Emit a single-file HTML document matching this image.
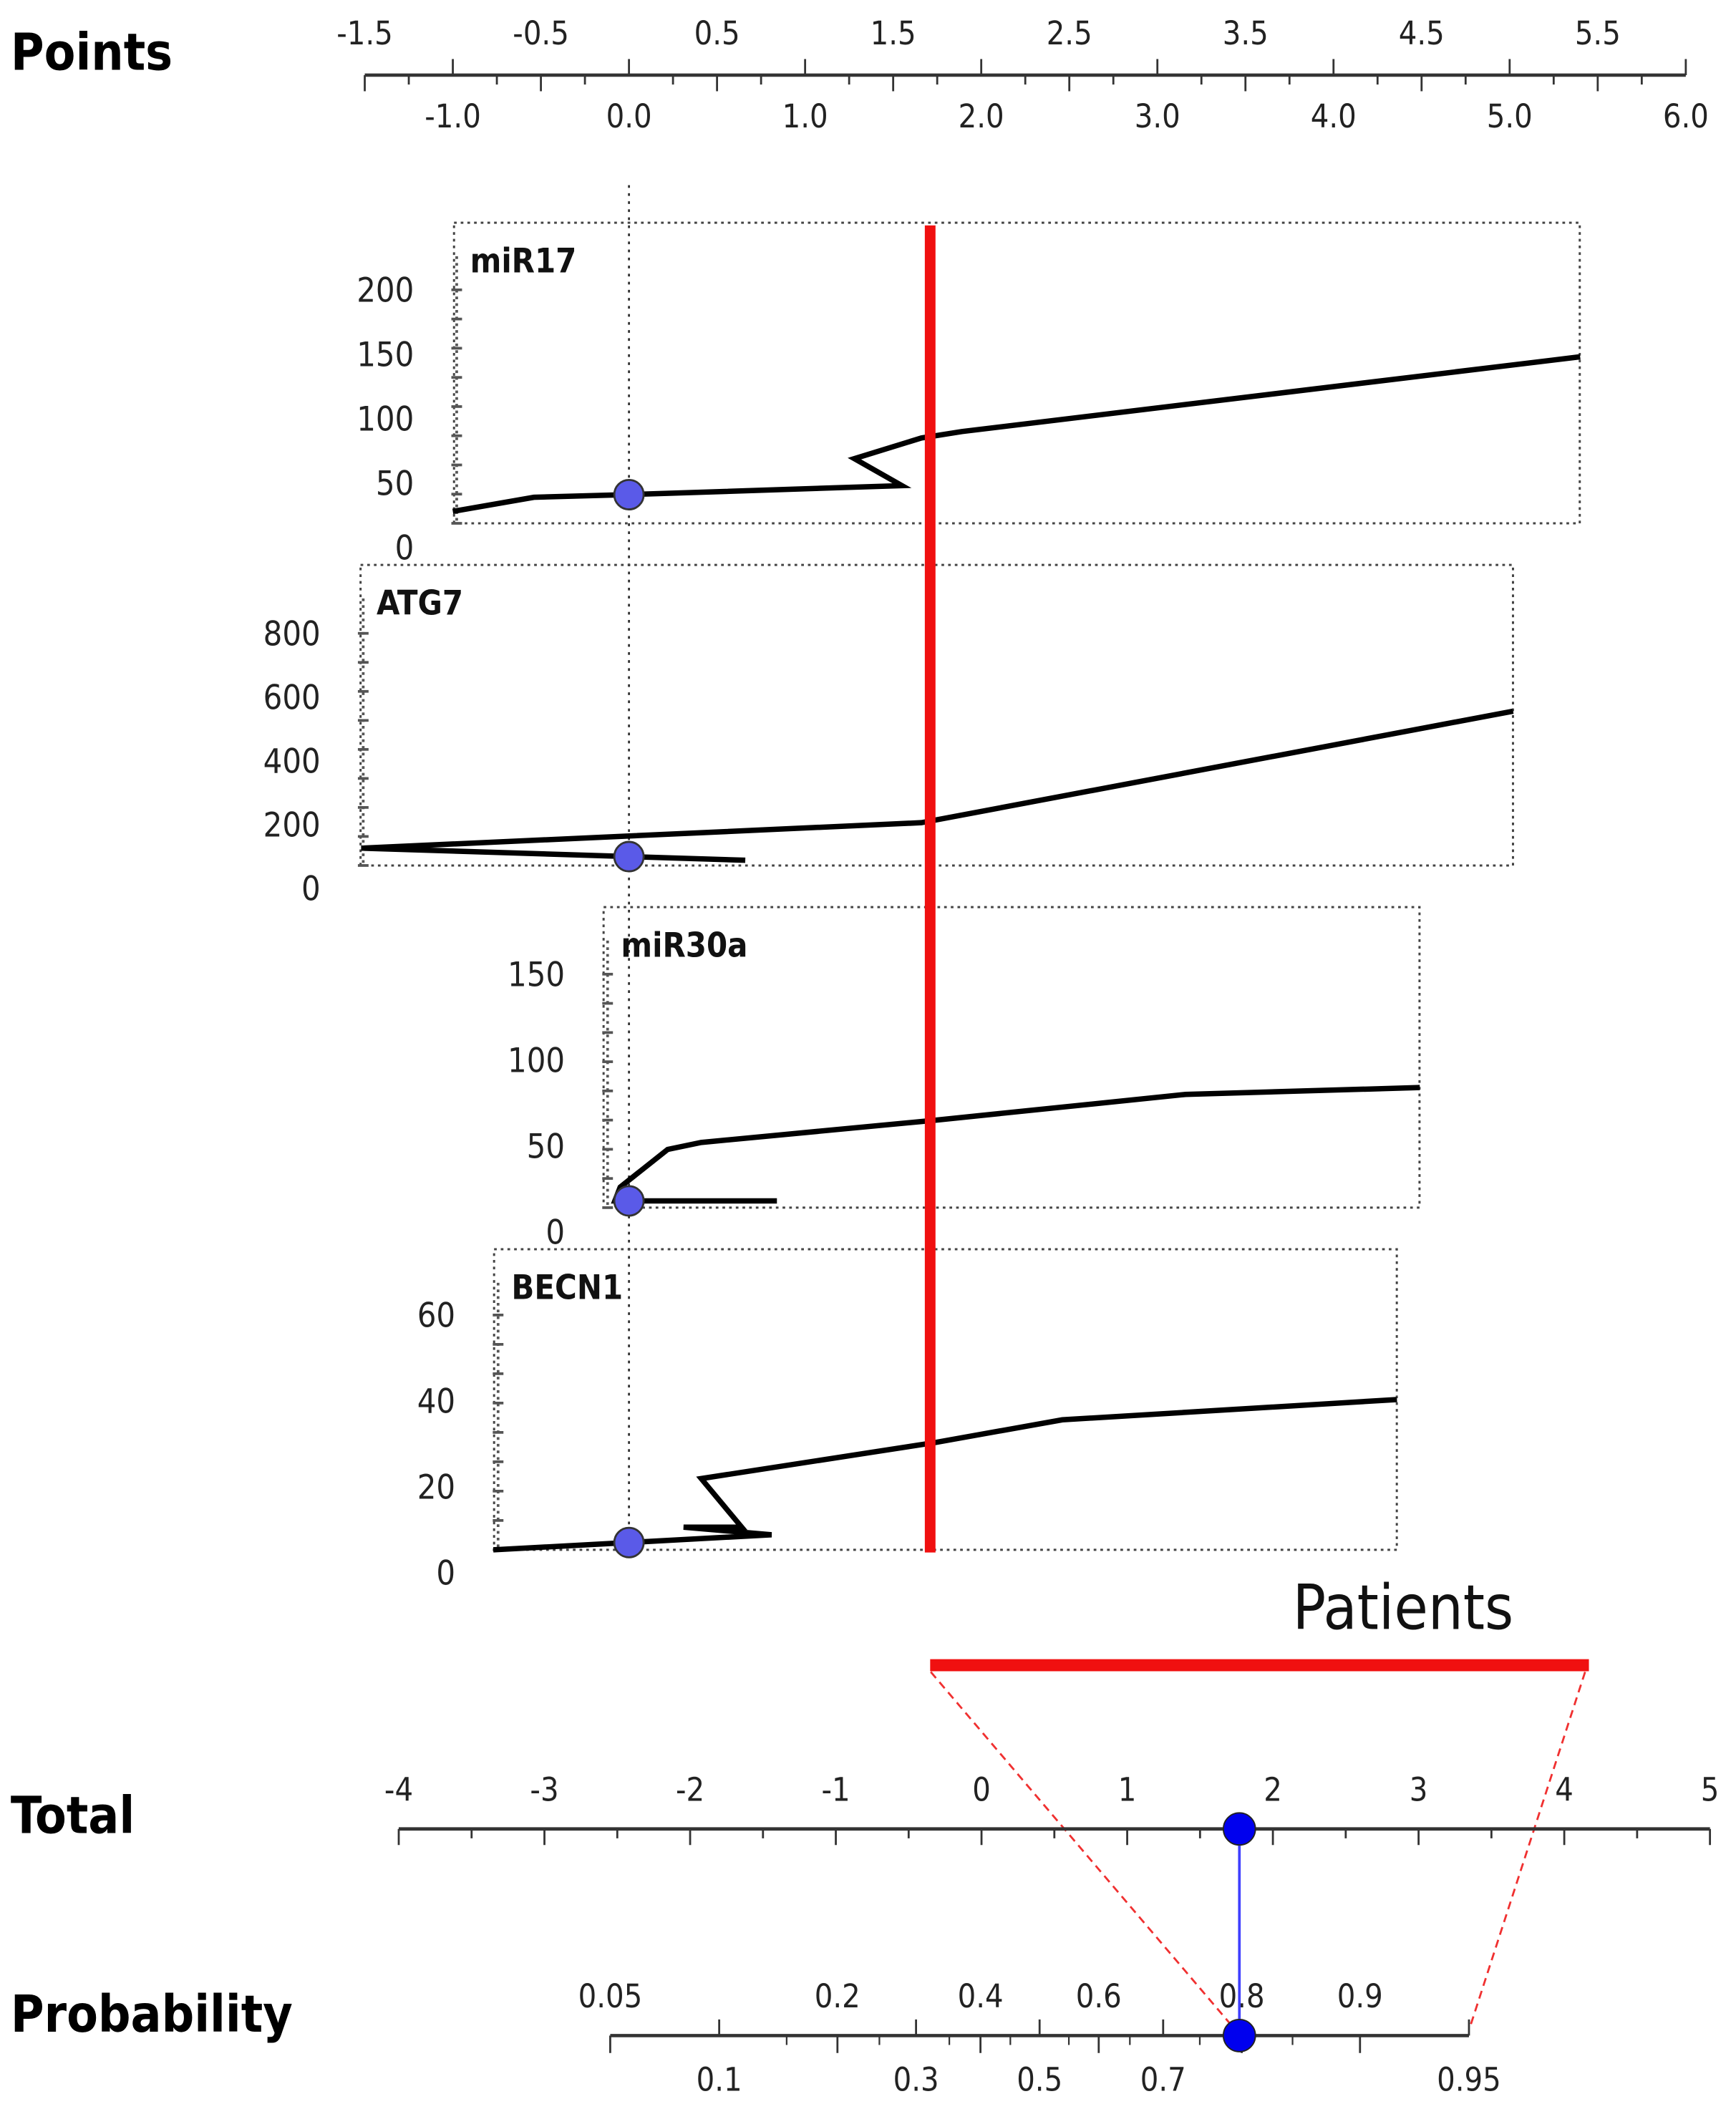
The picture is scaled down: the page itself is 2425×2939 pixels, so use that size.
<!DOCTYPE html>
<html><head><meta charset="utf-8"><style>
html,body{margin:0;padding:0;background:#fff}
svg{display:block}
text{font-family:"DejaVu Sans Condensed","Liberation Sans",sans-serif}
</style></head>
<body>
<svg id="chart" width="2425" height="2939" viewBox="0 0 1300 1568" preserveAspectRatio="none" xmlns="http://www.w3.org/2000/svg">
<g id="g"></g>
</svg>
<script>
// ---- data ----
const pointsTicksTop = [-1.5,-0.5,0.5,1.5,2.5,3.5,4.5,5.5];
const pointsTicksBottom = [-1.0,0.0,1.0,2.0,3.0,4.0,5.0,6.0];
const totalTicks = [-4,-3,-2,-1,0,1,2,3,4,5];
const probTop = [0.05,0.2,0.4,0.6,0.8,0.9];
const probBottom = [0.1,0.3,0.5,0.7,0.95];
const panelNames = ["miR17","ATG7","miR30a","BECN1"];
const miR17Pts = [-1,-0.54,0,1.55,1.28,1.66,1.89,5.4];
const miR17Vals = [28,39,41,48,69,85,90,148];
const miR17Ticks = [0,50,100,150,200];
const atg7Pts = [0.66,-1.52,1.66,5.02];
const atg7Vals = [88,126,206,556];
const atg7Ticks = [0,200,400,600,800];
const miR30aPts = [0.84,-0.08,-0.05,0.22,0.41,1.74,3.16,4.49];
const miR30aVals = [18,18,26,48,52,65,80,84];
const miR30aTicks = [0,50,100,150];
const becn1Pts = [-0.77,0.81,0.31,0.64,0.41,1.74,2.46,4.36];
const becn1Vals = [5.3,8.8,10.6,10.6,21.9,30.3,35.6,40.3];
const becn1Ticks = [0,20,40,60];
const patientPoints = 1.71;
const patientTotal = 1.77;
const patientRange = [1.71,5.45];

// ---- layout ----
const NS="http://www.w3.org/2000/svg";
const g=document.getElementById('g');
function el(tag,attrs,parent){const e=document.createElementNS(NS,tag);for(const k in attrs)e.setAttribute(k,attrs[k]);(parent||g).appendChild(e);return e;}
const px=v=>471+v*131.9;           // points axis
const tx=v=>735+v*109.1;            // total axis
const logit=p=>Math.log(p/(1-p));
const prx=p=>778.5+logit(p)*109.2;  // probability axis

// Points axis
let t=el('text',{x:8,y:52,'font-size':38,'font-weight':'bold','font-family':'Liberation Sans, sans-serif'});t.textContent='Points';


let ax=el('line',{x1:px(-1.5),x2:px(6),y1:56,y2:56,stroke:'#333','stroke-width':2.5});


for(let v=-1.5;v<=6.001;v+=0.25){
  const r=Math.round(v*4)/4; const isInt=Math.abs(r-Math.round(r))<1e-6; const isHalf=!isInt&&Math.abs(r*2-Math.round(r*2))<1e-6;
  if(isInt) el('line',{x1:px(r),x2:px(r),y1:44,y2:56,stroke:'#333','stroke-width':1.5});
  else el('line',{x1:px(r),x2:px(r),y1:56,y2:isHalf?68:63,stroke:'#333','stroke-width':1.5});
}
pointsTicksTop.forEach(v=>{const e=el('text',{x:px(v),y:33,'font-size':24,'text-anchor':'middle',fill:'#222'});e.textContent=v.toFixed(1);

});
pointsTicksBottom.forEach(v=>{const e=el('text',{x:px(v),y:95,'font-size':24,'text-anchor':'middle',fill:'#222'});e.textContent=v.toFixed(1);

});

// vertical dotted line at 0 points
el('line',{x1:px(0),x2:px(0),y1:138,y2:1162,stroke:'#333','stroke-width':1.5,'stroke-dasharray':'2,4'});

// panels
const panels=[
 {name:'miR17',pts:miR17Pts,vals:miR17Vals,ticks:miR17Ticks,bx:[340,1183],by:[166,390],zeroY:408,perUnit:48/50,axX:342},
 {name:'ATG7',pts:atg7Pts,vals:atg7Vals,ticks:atg7Ticks,bx:[270,1133],by:[421,645],zeroY:662,perUnit:47.5/200,axX:272},
 {name:'miR30a',pts:miR30aPts,vals:miR30aVals,ticks:miR30aTicks,bx:[452,1063],by:[676,900],zeroY:918,perUnit:64/50,axX:455},
 {name:'BECN1',pts:becn1Pts,vals:becn1Vals,ticks:becn1Ticks,bx:[370,1046],by:[931,1155],zeroY:1172,perUnit:64/20,axX:373}
];
panels.forEach((p,i)=>{
  const grp=el('g',{});
  
  
  const yv=v=>p.zeroY-v*p.perUnit;
  el('rect',{x:p.bx[0],y:p.by[0],width:p.bx[1]-p.bx[0],height:p.by[1]-p.by[0],fill:'none',stroke:'#444','stroke-width':1.6,'stroke-dasharray':'2,3'},grp);
  el('line',{x1:p.axX,x2:p.axX,y1:p.by[0]+25,y2:p.by[1],stroke:'#555','stroke-width':2,'stroke-dasharray':'2,3'},grp);
  const top=p.ticks[p.ticks.length-1];
  for(let k=0;k<=8;k++){const v=top*k/8;el('line',{x1:p.axX-4,x2:p.axX+4,y1:yv(v)-(p.zeroY-p.by[1])*(1-k/8),y2:yv(v)-(p.zeroY-p.by[1])*(1-k/8),stroke:'#555','stroke-width':2},grp);}
  p.ticks.forEach(v=>{const e=el('text',{x:p.axX-32,y:yv(v)+9,'font-size':25,'text-anchor':'end',fill:'#222'},grp);e.textContent=v;
  
  });
  const lab=el('text',{x:p.axX+10,y:p.by[0]+37,'font-size':25,'font-weight':'bold',fill:'#111'},grp);lab.textContent=p.name;
  
  
  const d=p.pts.map((x,j)=>(j?'L':'M')+px(x).toFixed(1)+','+yv(p.vals[j]).toFixed(1)).join(' ');
  const ln=el('path',{d:d,fill:'none',stroke:'#000','stroke-width':4,'stroke-linejoin':'miter'},grp);
  
  
  // dot at points=0
  let dy=null;
  for(let j=0;j<p.pts.length-1;j++){const a=p.pts[j],b=p.pts[j+1];if((a-0)*(b-0)<=0&&a!==b){dy=p.vals[j]+(p.vals[j+1]-p.vals[j])*(0-a)/(b-a);break;}}
  if(dy===null)dy=p.vals[0];
  const c=el('circle',{cx:px(0),cy:yv(dy),r:11,fill:'#5a5ae8',stroke:'#333','stroke-width':1.5},grp);
  
  
});

// red vertical line
let rv=el('line',{x1:px(patientPoints),x2:px(patientPoints),y1:168,y2:1157,stroke:'#f01010','stroke-width':8});



// Patients bar
let rb=el('line',{x1:px(patientRange[0]),x2:px(patientRange[1]),y1:1241,y2:1241,stroke:'#f01010','stroke-width':9});


t=el('text',{x:968,y:1214,'font-size':46,fill:'#111','font-family':'Liberation Sans, sans-serif'});t.textContent='Patients';


el('line',{x1:697,y1:1246,x2:927,y2:1515,stroke:'#f03030','stroke-width':1.5,'stroke-dasharray':'6,4'});
el('line',{x1:1187,y1:1246,x2:1101,y2:1510,stroke:'#f03030','stroke-width':1.5,'stroke-dasharray':'6,4'});

// Total axis
t=el('text',{x:8,y:1366,'font-size':38,'font-weight':'bold','font-family':'Liberation Sans, sans-serif'});t.textContent='Total';


ax=el('line',{x1:tx(-4),x2:tx(5),y1:1363,y2:1363,stroke:'#333','stroke-width':2.5});


for(let v=-4;v<=5.001;v+=0.5){const isInt=Math.abs(v-Math.round(v))<1e-6;el('line',{x1:tx(v),x2:tx(v),y1:1363,y2:isInt?1375:1370,stroke:'#333','stroke-width':1.5});}
totalTicks.forEach(v=>{const e=el('text',{x:tx(v),y:1342,'font-size':24,'text-anchor':'middle',fill:'#222'});e.textContent=v;

});

// Probability axis
t=el('text',{x:8,y:1514,'font-size':38,'font-weight':'bold','font-family':'Liberation Sans, sans-serif'});t.textContent='Probability';


ax=el('line',{x1:prx(0.05),x2:prx(0.95),y1:1517,y2:1517,stroke:'#333','stroke-width':2.5});


probBottom.forEach(v=>{el('line',{x1:prx(v),x2:prx(v),y1:1505,y2:1517,stroke:'#333','stroke-width':1.5});});
probTop.forEach(v=>{el('line',{x1:prx(v),x2:prx(v),y1:1517,y2:1530,stroke:'#333','stroke-width':1.5});});
[0.15,0.25,0.35,0.45,0.55,0.65,0.75,0.85].forEach(v=>{el('line',{x1:prx(v),x2:prx(v),y1:1517,y2:1524,stroke:'#333','stroke-width':1.2});});
probTop.forEach(v=>{const e=el('text',{x:prx(v),y:1496,'font-size':24,'text-anchor':'middle',fill:'#222'});e.textContent=String(v);

});
probBottom.forEach(v=>{const e=el('text',{x:prx(v),y:1558,'font-size':24,'text-anchor':'middle',fill:'#222'});e.textContent=String(v);

});

// patient total & probability markers
const tX=tx(patientTotal);
el('line',{x1:tX,x2:tX,y1:1363,y2:1517,stroke:'#4040ff','stroke-width':2});
let m=el('circle',{cx:tX,cy:1363,r:12,fill:'#0000ee',stroke:'#222','stroke-width':1});


m=el('circle',{cx:tX,cy:1517,r:12,fill:'#0000ee',stroke:'#222','stroke-width':1});


</script>
</body></html>
